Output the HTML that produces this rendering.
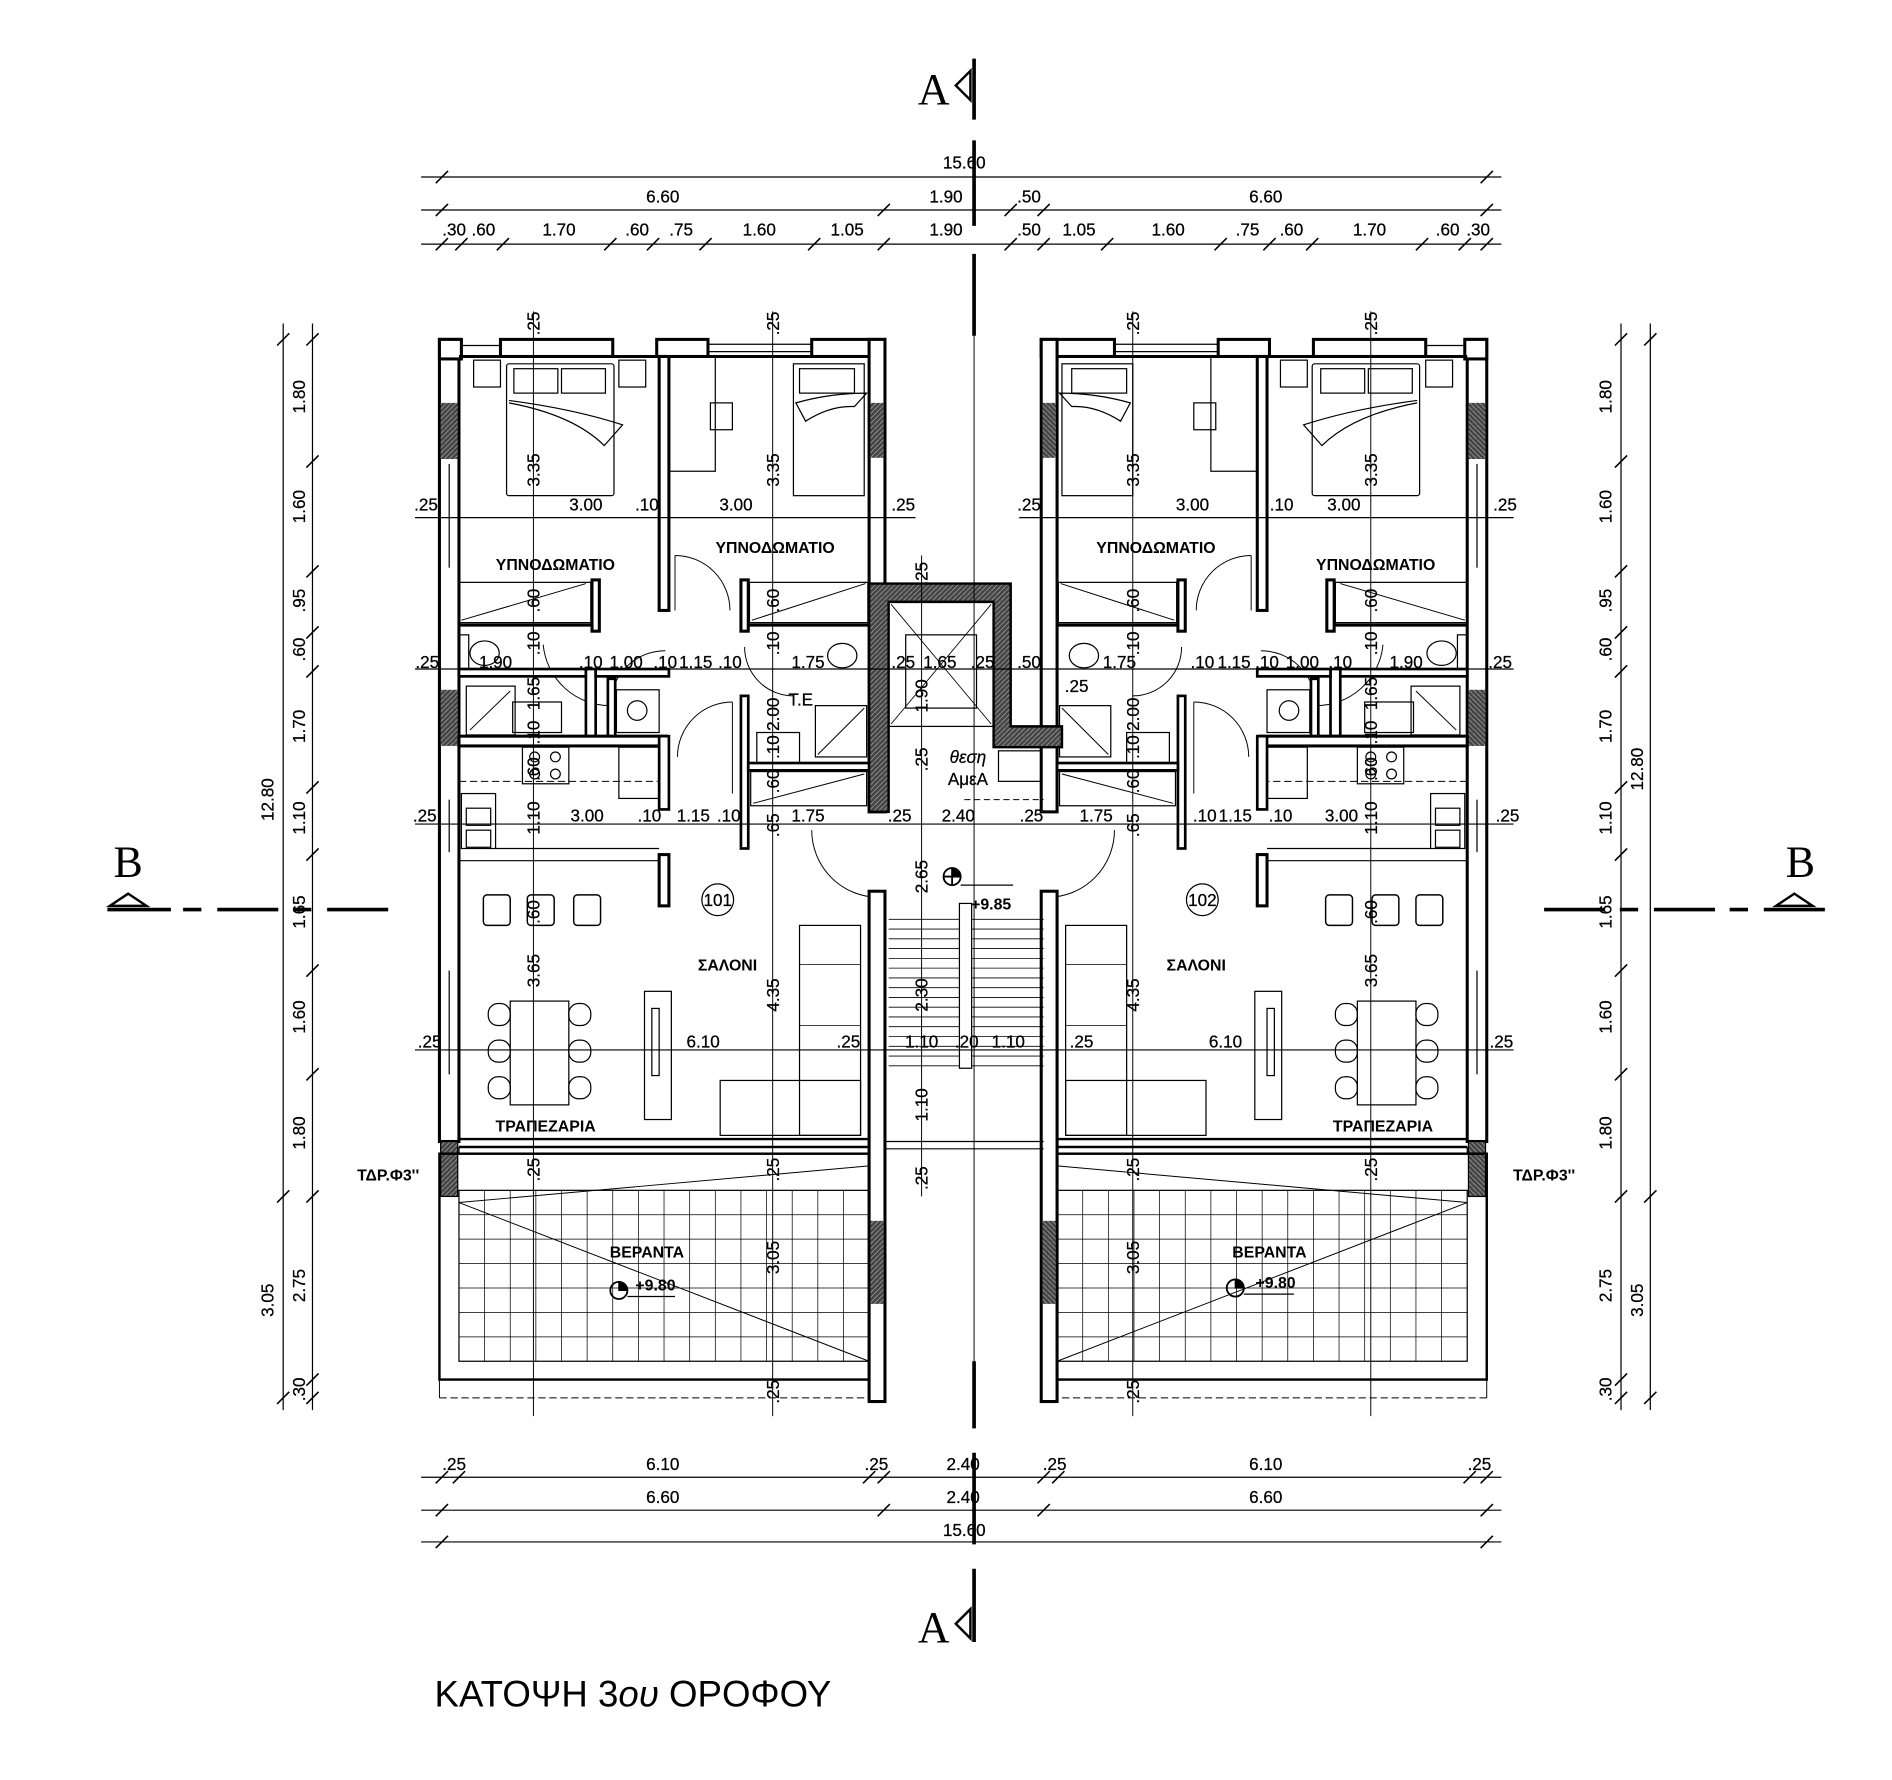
<!DOCTYPE html>
<html><head><meta charset="utf-8"><style>
html,body{margin:0;padding:0;background:#fff;}
svg{display:block}
text{font-family:"Liberation Sans Narrow","Liberation Sans",sans-serif;fill:#000;font-size:14px}
.t{font-size:14px;text-anchor:middle;stroke:#000;stroke-width:0.2}
.r{font-size:13px;font-weight:bold;text-anchor:middle}
</style></head><body>
<svg width="1892" height="1780" viewBox="0 0 1550 1458" preserveAspectRatio="none" xmlns="http://www.w3.org/2000/svg">
<defs>
<pattern id="h" width="4" height="4" patternUnits="userSpaceOnUse"><rect width="4" height="4" fill="#444"/><path d="M0 4L4 0" stroke="#999" stroke-width="0.7"/></pattern>
<g id="unit" stroke="#000" fill="none">
  <rect x="360" y="278" width="16" height="657" fill="#fff" stroke-width="2.5"/>
  <rect x="361" y="330" width="14" height="46" fill="url(#h)" stroke="none"/>
  <rect x="361" y="565" width="14" height="46" fill="url(#h)" stroke="none"/>
  <line x1="368" y1="380" x2="368" y2="465" stroke-width="1"/>
  <line x1="368" y1="655" x2="368" y2="698" stroke-width="1"/>
  <line x1="368" y1="795" x2="368" y2="880" stroke-width="1"/>
  <rect x="360" y="278" width="18" height="16" fill="#fff" stroke-width="2.5"/>
  <rect x="410" y="278" width="92" height="14" fill="#fff" stroke-width="2.5"/>
  <rect x="538" y="278" width="42" height="14" fill="#fff" stroke-width="2.5"/>
  <rect x="665" y="278" width="60" height="14" fill="#fff" stroke-width="2.5"/>
  <line x1="580" y1="282" x2="665" y2="282" stroke-width="1"/><line x1="580" y1="288" x2="665" y2="288" stroke-width="1"/>
  <line x1="378" y1="283" x2="410" y2="283" stroke-width="1"/>
  <line x1="376" y1="292" x2="712" y2="292" stroke-width="2.5"/>
  <rect x="712" y="278" width="13" height="387" fill="#fff" stroke-width="2.5"/>
  <rect x="713" y="330" width="11" height="45" fill="url(#h)" stroke="none"/>
  <rect x="540" y="292" width="8" height="208" fill="#fff" stroke-width="2.5"/>
  <rect x="485" y="475" width="6" height="42" fill="#fff" stroke-width="2.5"/>
  <line x1="376" y1="512" x2="485" y2="512" stroke-width="2.5"/>
  <rect x="376" y="477" width="108" height="33" stroke-width="1"/>
  <line x1="378" y1="508" x2="480" y2="478" stroke-width="0.8"/>
  <rect x="607" y="475" width="6" height="42" fill="#fff" stroke-width="2.5"/>
  <line x1="613" y1="512" x2="712" y2="512" stroke-width="2.5"/>
  <rect x="614" y="477" width="97" height="33" stroke-width="1"/>
  <line x1="616" y1="508" x2="709" y2="478" stroke-width="0.8"/>
  <rect x="415" y="298" width="88" height="108" rx="2" stroke-width="1"/>
  <rect x="421" y="302" width="36" height="20" stroke-width="1"/><rect x="460" y="302" width="36" height="20" stroke-width="1"/>
  <path d="M417 328 Q470 335 510 348 L495 365 Q470 340 417 330" stroke-width="1"/>
  <rect x="388" y="295" width="22" height="22" stroke-width="1"/><rect x="507" y="295" width="22" height="22" stroke-width="1"/>
  <rect x="650" y="298" width="58" height="108" stroke-width="1"/>
  <rect x="655" y="302" width="45" height="20" stroke-width="1"/>
  <path d="M652 330 Q680 322 710 322 L700 333 Q680 332 660 345 Z" stroke-width="1"/>
  <rect x="548" y="292" width="38" height="94" stroke-width="1"/>
  <rect x="582" y="330" width="18" height="22" stroke-width="1"/>
  <path d="M553 455 A45 45 0 0 1 598 500" stroke-width="0.8"/><line x1="553" y1="455" x2="553" y2="500" stroke-width="0.8"/>
  <path d="M445 528 A55 55 0 0 0 500 578" stroke-width="0.8"/>
  <path d="M500 578 A45 45 0 0 1 545 533" stroke-width="0.8"/>
  <path d="M610 530 A40 40 0 0 0 650 570" stroke-width="0.8"/>
  <path d="M555 620 A45 45 0 0 1 600 575" stroke-width="0.8"/><line x1="600" y1="575" x2="600" y2="650" stroke-width="0.8"/>
  <path d="M665 680 A55 55 0 0 0 720 735" stroke-width="0.8"/>
  <rect x="376" y="520" width="8" height="28" stroke-width="1"/>
  <ellipse cx="397" cy="535" rx="12" ry="10" stroke-width="1"/>
  <rect x="376" y="548" width="104" height="6" fill="#fff" stroke-width="2.2"/>
  <rect x="480" y="548" width="8" height="55" fill="#fff" stroke-width="2.2"/>
  <rect x="488" y="548" width="60" height="6" fill="#fff" stroke-width="2.2"/>
  <rect x="498" y="556" width="6" height="50" fill="#fff" stroke-width="2.2"/>
  <rect x="382" y="562" width="40" height="40" stroke-width="1"/><line x1="385" y1="598" x2="418" y2="566" stroke-width="0.8"/>
  <rect x="420" y="575" width="40" height="25" stroke-width="1"/>
  <rect x="505" y="565" width="35" height="35" stroke-width="1"/><circle cx="522" cy="582" r="8" stroke-width="1"/>
  <rect x="376" y="603" width="170" height="8" fill="#fff" stroke-width="2.5"/>
  <rect x="540" y="603" width="8" height="60" fill="#fff" stroke-width="2.2"/>
  <rect x="428" y="612" width="38" height="30" stroke-width="1"/>
  <circle cx="438" cy="620" r="4" stroke-width="1"/><circle cx="455" cy="620" r="4" stroke-width="1"/><circle cx="438" cy="634" r="4" stroke-width="1"/><circle cx="455" cy="634" r="4" stroke-width="1"/>
  <line x1="376" y1="640" x2="540" y2="640" stroke-width="0.8" stroke-dasharray="6 3"/>
  <rect x="507" y="612" width="33" height="42" stroke-width="1"/>
  <rect x="378" y="650" width="28" height="45" stroke-width="1"/>
  <rect x="382" y="662" width="20" height="14" stroke-width="1"/><rect x="382" y="680" width="20" height="14" stroke-width="1"/>
  <line x1="406" y1="695" x2="540" y2="695" stroke-width="1"/>
  <rect x="607" y="570" width="6" height="125" fill="#fff" stroke-width="2.2"/>
  <rect x="613" y="625" width="99" height="6" fill="#fff" stroke-width="2.2"/>
  <rect x="668" y="578" width="42" height="42" stroke-width="1"/><line x1="670" y1="618" x2="708" y2="580" stroke-width="0.8"/>
  <rect x="620" y="600" width="35" height="25" stroke-width="1"/>
  <rect x="615" y="632" width="95" height="28" stroke-width="1"/><line x1="617" y1="658" x2="708" y2="634" stroke-width="0.8"/>
  <ellipse cx="690" cy="537" rx="12" ry="10" stroke-width="1"/>
  <rect x="540" y="700" width="8" height="42" fill="#fff" stroke-width="2.5"/>
  <line x1="376" y1="705" x2="540" y2="705" stroke-width="1"/>
  <rect x="396" y="733" width="22" height="25" rx="3" stroke-width="1.2"/><rect x="432" y="733" width="22" height="25" rx="3" stroke-width="1.2"/><rect x="470" y="733" width="22" height="25" rx="3" stroke-width="1.2"/>
  <rect x="418" y="820" width="48" height="85" stroke-width="1"/>
  <rect x="400" y="822" width="18" height="18" rx="8" stroke-width="1"/><rect x="400" y="852" width="18" height="18" rx="8" stroke-width="1"/><rect x="400" y="882" width="18" height="18" rx="8" stroke-width="1"/>
  <rect x="466" y="822" width="18" height="18" rx="8" stroke-width="1"/><rect x="466" y="852" width="18" height="18" rx="8" stroke-width="1"/><rect x="466" y="882" width="18" height="18" rx="8" stroke-width="1"/>
  <rect x="528" y="812" width="22" height="105" stroke-width="1"/><rect x="534" y="826" width="6" height="55" stroke-width="1"/>
  <rect x="655" y="758" width="50" height="172" stroke-width="1"/>
  <rect x="590" y="885" width="115" height="45" stroke-width="1"/>
  <line x1="655" y1="790" x2="705" y2="790" stroke-width="0.6"/><line x1="655" y1="840" x2="705" y2="840" stroke-width="0.6"/>
  <rect x="712" y="730" width="13" height="418" fill="#fff" stroke-width="2.5"/>
  <rect x="713" y="1000" width="11" height="68" fill="url(#h)" stroke="none"/>
  <rect x="361" y="935" width="14" height="45" fill="url(#h)" stroke="#000" stroke-width="1"/>
  <line x1="376" y1="933" x2="712" y2="933" stroke-width="2"/><line x1="376" y1="939" x2="712" y2="939" stroke-width="1"/>
  <rect x="376" y="940" width="336" height="5" stroke-width="1"/>
  <rect x="360" y="945" width="352" height="185" stroke-width="2"/>
  <rect x="376" y="975" width="336" height="140" stroke-width="1"/>
  <path d="M397 975 V1115 M418 975 V1115 M439 975 V1115 M460 975 V1115 M481 975 V1115 M502 975 V1115 M523 975 V1115 M544 975 V1115 M565 975 V1115 M586 975 V1115 M607 975 V1115 M628 975 V1115 M649 975 V1115 M670 975 V1115 M691 975 V1115" stroke-width="0.6"/>
  <path d="M376 995 H712 M376 1015 H712 M376 1035 H712 M376 1055 H712 M376 1075 H712 M376 1095 H712" stroke-width="0.6"/>
  <path d="M376 985 L712 1115 M376 985 L712 955" stroke-width="0.8"/>
  <line x1="360" y1="1145" x2="712" y2="1145" stroke-width="0.8" stroke-dasharray="6 3"/>
  <line x1="360" y1="1130" x2="360" y2="1145" stroke-width="0.8"/>
</g>
</defs>

<use href="#unit"/>
<use href="#unit" transform="translate(1578,0) scale(-1,1)"/>

<g stroke="#000" fill="none">
<path d="M712 478 H828 V595 H870 V612 H814 V493 H728 V665 H712 Z" fill="url(#h)" stroke-width="2"/>
<rect x="728" y="493" width="86" height="102" stroke-width="1"/>
<path d="M730 495 L812 593 M812 495 L730 593" stroke-width="0.7"/>
<rect x="742" y="520" width="58" height="60" stroke-width="1"/>
<rect x="818" y="615" width="35" height="25" stroke-width="1"/>
<line x1="790" y1="655" x2="855" y2="655" stroke-width="0.8" stroke-dasharray="5 3"/>
<path d="M728 753 H855 M728 761 H855 M728 769 H855 M728 777 H855 M728 785 H855 M728 793 H855 M728 801 H855 M728 809 H855 M728 817 H855 M728 825 H855 M728 833 H855 M728 841 H855 M728 849 H855 M728 857 H855 M728 865 H855 M728 873 H855" stroke-width="0.7"/>
<rect x="786" y="740" width="10" height="135" fill="#fff" stroke-width="1"/>
<line x1="725" y1="935" x2="855" y2="935" stroke-width="1"/><line x1="725" y1="941" x2="855" y2="941" stroke-width="1"/>
<circle cx="780" cy="718" r="7" stroke-width="1.5"/><path d="M773 718 H787 M780 711 V725" stroke-width="1.5"/><path d="M780 711 A7 7 0 0 1 787 718 L780 718 Z" fill="#000"/>
<line x1="787" y1="725" x2="830" y2="725" stroke-width="1"/>
<circle cx="588" cy="737" r="13" stroke-width="1"/><circle cx="985" cy="737" r="13" stroke-width="1"/>
<circle cx="507" cy="1057" r="7" stroke-width="1.5"/><path d="M507 1050 A7 7 0 0 1 514 1057 L507 1057 Z" fill="#000"/><line x1="514" y1="1062" x2="553" y2="1062" stroke-width="1"/>
<circle cx="1012" cy="1055" r="7" stroke-width="1.5"/><path d="M1012 1048 A7 7 0 0 1 1019 1055 L1012 1055 Z" fill="#000"/><line x1="1019" y1="1060" x2="1060" y2="1060" stroke-width="1"/>
</g>

<g stroke="#000">
<path d="M798 48 V98 M798 115 V185 M798 208 V275" stroke-width="3"/>
<path d="M798 1115 V1170 M798 1190 V1265 M798 1285 V1345" stroke-width="3"/>
<path d="M88 745 H140 M150 745 H165 M178 745 H228 M240 745 H255 M268 745 H318" stroke-width="3"/>
<path d="M1265 745 H1315 M1327 745 H1342 M1355 745 H1405 M1417 745 H1432 M1445 745 H1495" stroke-width="3"/>
<path d="M795 58 L783 70 L795 82 Z M795 1318 L783 1330 L795 1342 Z" fill="#fff" stroke-width="2"/>
<path d="M90 742 L105 732 L120 742 Z M1455 742 L1470 732 L1485 742 Z" fill="#fff" stroke-width="2"/>
</g>
<text x="765" y="85" style="font-size:36px;font-family:'Liberation Serif',serif" text-anchor="middle">A</text>
<text x="765" y="1345" style="font-size:36px;font-family:'Liberation Serif',serif" text-anchor="middle">A</text>
<text x="105" y="718" style="font-size:36px;font-family:'Liberation Serif',serif" text-anchor="middle">B</text>
<text x="1475" y="718" style="font-size:36px;font-family:'Liberation Serif',serif" text-anchor="middle">B</text>

<g stroke="#000" stroke-width="1">
<path d="M345 145 H1230 M345 172 H1230 M345 200 H1230 M345 1210 H1230 M345 1237 H1230 M345 1263 H1230"/>
<path d="M232 265 V1155 M256 265 V1155 M1328 265 V1155 M1352 265 V1155"/>
<path d="M340 424 H750 M835 424 H1240 M340 548 H1240 M340 675 H1240 M340 860 H1240"/>
<path d="M437 255 V1160 M633 255 V1160 M928 255 V1160 M1123 255 V1160 M755 455 V980 M798 255 V1115" stroke-width="0.8"/>
<g stroke-width="1.3">
<path d="M357 150 L367 140 M1213 150 L1223 140"/>
<path d="M357 177 L367 167 M719 177 L729 167 M823 177 L833 167 M850 177 L860 167 M1213 177 L1223 167"/>
<path d="M357 205 L367 195 M373 205 L383 195 M407 205 L417 195 M495 205 L505 195 M530 205 L540 195 M573 205 L583 195 M662 205 L672 195 M719 205 L729 195 M823 205 L833 195 M850 205 L860 195 M902 205 L912 195 M995 205 L1005 195 M1035 205 L1045 195 M1070 205 L1080 195 M1160 205 L1170 195 M1195 205 L1205 195 M1213 205 L1223 195"/>
<path d="M357 1215 L367 1205 M371 1215 L381 1205 M707 1215 L717 1205 M719 1215 L729 1205 M850 1215 L860 1205 M862 1215 L872 1205 M1199 1215 L1209 1205 M1213 1215 L1223 1205"/>
<path d="M357 1242 L367 1232 M719 1242 L729 1232 M850 1242 L860 1232 M1213 1242 L1223 1232 M357 1268 L367 1258 M1213 1268 L1223 1258"/>
<path d="M227 283 L237 273 M227 1150 L237 1140 M251 283 L261 273 M251 383 L261 373 M251 473 L261 463 M251 523 L261 513 M251 555 L261 545 M251 650 L261 640 M251 705 L261 695 M251 800 L261 790 M251 885 L261 875 M251 985 L261 975 M251 1135 L261 1125 M251 1150 L261 1140 M227 985 L237 975"/>
<path d="M1323 283 L1333 273 M1323 383 L1333 373 M1323 473 L1333 463 M1323 523 L1333 513 M1323 555 L1333 545 M1323 650 L1333 640 M1323 705 L1333 695 M1323 800 L1333 790 M1323 885 L1333 875 M1323 985 L1333 975 M1323 1135 L1333 1125 M1323 1150 L1333 1140 M1347 283 L1357 273 M1347 1150 L1357 1140 M1347 985 L1357 975"/>
</g>
</g>

<g class="t">
<text x="790" y="138" class="t">15.60</text>
<text x="543" y="166" class="t">6.60</text><text x="775" y="166" class="t">1.90</text><text x="843" y="166" class="t">.50</text><text x="1037" y="166" class="t">6.60</text>
<text x="372" y="193" class="t">.30</text><text x="396" y="193" class="t">.60</text><text x="458" y="193" class="t">1.70</text><text x="522" y="193" class="t">.60</text><text x="558" y="193" class="t">.75</text><text x="622" y="193" class="t">1.60</text><text x="694" y="193" class="t">1.05</text><text x="775" y="193" class="t">1.90</text><text x="843" y="193" class="t">.50</text><text x="884" y="193" class="t">1.05</text><text x="957" y="193" class="t">1.60</text><text x="1022" y="193" class="t">.75</text><text x="1058" y="193" class="t">.60</text><text x="1122" y="193" class="t">1.70</text><text x="1186" y="193" class="t">.60</text><text x="1211" y="193" class="t">.30</text>
<text x="372" y="1204" class="t">.25</text><text x="543" y="1204" class="t">6.10</text><text x="718" y="1204" class="t">.25</text><text x="789" y="1204" class="t">2.40</text><text x="864" y="1204" class="t">.25</text><text x="1037" y="1204" class="t">6.10</text><text x="1212" y="1204" class="t">.25</text>
<text x="543" y="1231" class="t">6.60</text><text x="789" y="1231" class="t">2.40</text><text x="1037" y="1231" class="t">6.60</text>
<text x="790" y="1258" class="t">15.60</text>
<text x="349" y="418" class="t">.25</text><text x="480" y="418" class="t">3.00</text><text x="530" y="418" class="t">.10</text><text x="603" y="418" class="t">3.00</text><text x="740" y="418" class="t">.25</text>
<text x="843" y="418" class="t">.25</text><text x="977" y="418" class="t">3.00</text><text x="1050" y="418" class="t">.10</text><text x="1101" y="418" class="t">3.00</text><text x="1233" y="418" class="t">.25</text>
<text x="350" y="547" class="t">.25</text><text x="406" y="547" class="t">1.90</text><text x="484" y="547" class="t">.10</text><text x="513" y="547" class="t">1.00</text><text x="545" y="547" class="t">.10</text><text x="570" y="547" class="t">1.15</text><text x="598" y="547" class="t">.10</text><text x="662" y="547" class="t">1.75</text><text x="740" y="547" class="t">.25</text><text x="770" y="547" class="t">1.65</text><text x="805" y="547" class="t">.25</text><text x="843" y="547" class="t">.50</text>
<text x="917" y="547" class="t">1.75</text><text x="985" y="547" class="t">.10</text><text x="1011" y="547" class="t">1.15</text><text x="1038" y="547" class="t">.10</text><text x="1067" y="547" class="t">1.00</text><text x="1098" y="547" class="t">.10</text><text x="1152" y="547" class="t">1.90</text><text x="1229" y="547" class="t">.25</text>
<text x="348" y="673" class="t">.25</text><text x="481" y="673" class="t">3.00</text><text x="532" y="673" class="t">.10</text><text x="568" y="673" class="t">1.15</text><text x="597" y="673" class="t">.10</text><text x="662" y="673" class="t">1.75</text><text x="737" y="673" class="t">.25</text><text x="785" y="673" class="t">2.40</text><text x="845" y="673" class="t">.25</text><text x="898" y="673" class="t">1.75</text><text x="987" y="673" class="t">.10</text><text x="1012" y="673" class="t">1.15</text><text x="1049" y="673" class="t">.10</text><text x="1099" y="673" class="t">3.00</text><text x="1235" y="673" class="t">.25</text>
<text x="352" y="858" class="t">.25</text><text x="576" y="858" class="t">6.10</text><text x="695" y="858" class="t">.25</text><text x="755" y="858" class="t">1.10</text><text x="792" y="858" class="t">.20</text><text x="826" y="858" class="t">1.10</text><text x="886" y="858" class="t">.25</text><text x="1004" y="858" class="t">6.10</text><text x="1230" y="858" class="t">.25</text>
<text x="882" y="567" class="t">.25</text><text x="656" y="578" class="t">Τ.Ε</text>
</g>

<g class="t">
<text transform="translate(250,325) rotate(-90)" class="t">1.80</text>
<text transform="translate(250,415) rotate(-90)" class="t">1.60</text>
<text transform="translate(250,492) rotate(-90)" class="t">.95</text>
<text transform="translate(250,532) rotate(-90)" class="t">.60</text>
<text transform="translate(250,595) rotate(-90)" class="t">1.70</text>
<text transform="translate(250,670) rotate(-90)" class="t">1.10</text>
<text transform="translate(250,747) rotate(-90)" class="t">1.65</text>
<text transform="translate(250,833) rotate(-90)" class="t">1.60</text>
<text transform="translate(250,928) rotate(-90)" class="t">1.80</text>
<text transform="translate(250,1053) rotate(-90)" class="t">2.75</text>
<text transform="translate(250,1138) rotate(-90)" class="t">.30</text>
<text transform="translate(224,655) rotate(-90)" class="t">12.80</text>
<text transform="translate(224,1065) rotate(-90)" class="t">3.05</text>
<text transform="translate(1320,325) rotate(-90)" class="t">1.80</text>
<text transform="translate(1320,415) rotate(-90)" class="t">1.60</text>
<text transform="translate(1320,492) rotate(-90)" class="t">.95</text>
<text transform="translate(1320,532) rotate(-90)" class="t">.60</text>
<text transform="translate(1320,595) rotate(-90)" class="t">1.70</text>
<text transform="translate(1320,670) rotate(-90)" class="t">1.10</text>
<text transform="translate(1320,747) rotate(-90)" class="t">1.65</text>
<text transform="translate(1320,833) rotate(-90)" class="t">1.60</text>
<text transform="translate(1320,928) rotate(-90)" class="t">1.80</text>
<text transform="translate(1320,1053) rotate(-90)" class="t">2.75</text>
<text transform="translate(1320,1138) rotate(-90)" class="t">.30</text>
<text transform="translate(1346,630) rotate(-90)" class="t">12.80</text>
<text transform="translate(1346,1065) rotate(-90)" class="t">3.05</text>
<text transform="translate(442,265) rotate(-90)" class="t">.25</text><text transform="translate(638,265) rotate(-90)" class="t">.25</text><text transform="translate(933,265) rotate(-90)" class="t">.25</text><text transform="translate(1128,265) rotate(-90)" class="t">.25</text>
<text transform="translate(442,385) rotate(-90)" class="t">3.35</text><text transform="translate(638,385) rotate(-90)" class="t">3.35</text><text transform="translate(933,385) rotate(-90)" class="t">3.35</text><text transform="translate(1128,385) rotate(-90)" class="t">3.35</text>
<text transform="translate(442,492) rotate(-90)" class="t">.60</text><text transform="translate(638,492) rotate(-90)" class="t">.60</text><text transform="translate(933,492) rotate(-90)" class="t">.60</text><text transform="translate(1128,492) rotate(-90)" class="t">.60</text>
<text transform="translate(442,527) rotate(-90)" class="t">.10</text><text transform="translate(638,527) rotate(-90)" class="t">.10</text><text transform="translate(933,527) rotate(-90)" class="t">.10</text><text transform="translate(1128,527) rotate(-90)" class="t">.10</text>
<text transform="translate(442,568) rotate(-90)" class="t">1.65</text><text transform="translate(638,585) rotate(-90)" class="t">2.00</text><text transform="translate(933,585) rotate(-90)" class="t">2.00</text><text transform="translate(1128,568) rotate(-90)" class="t">1.65</text>
<text transform="translate(442,600) rotate(-90)" class="t">.10</text><text transform="translate(638,612) rotate(-90)" class="t">.10</text><text transform="translate(933,612) rotate(-90)" class="t">.10</text><text transform="translate(1128,600) rotate(-90)" class="t">.10</text>
<text transform="translate(442,630) rotate(-90)" class="t">.60</text><text transform="translate(638,640) rotate(-90)" class="t">.60</text><text transform="translate(933,640) rotate(-90)" class="t">.60</text><text transform="translate(1128,630) rotate(-90)" class="t">.60</text>
<text transform="translate(442,670) rotate(-90)" class="t">1.10</text><text transform="translate(638,676) rotate(-90)" class="t">.65</text><text transform="translate(933,676) rotate(-90)" class="t">.65</text><text transform="translate(1128,670) rotate(-90)" class="t">1.10</text>
<text transform="translate(442,747) rotate(-90)" class="t">.60</text><text transform="translate(1128,747) rotate(-90)" class="t">.60</text>
<text transform="translate(442,795) rotate(-90)" class="t">3.65</text><text transform="translate(1128,795) rotate(-90)" class="t">3.65</text>
<text transform="translate(638,815) rotate(-90)" class="t">4.35</text><text transform="translate(933,815) rotate(-90)" class="t">4.35</text>
<text transform="translate(442,958) rotate(-90)" class="t">.25</text><text transform="translate(638,958) rotate(-90)" class="t">.25</text><text transform="translate(933,958) rotate(-90)" class="t">.25</text><text transform="translate(1128,958) rotate(-90)" class="t">.25</text>
<text transform="translate(638,1030) rotate(-90)" class="t">3.05</text><text transform="translate(933,1030) rotate(-90)" class="t">3.05</text>
<text transform="translate(638,1140) rotate(-90)" class="t">.25</text><text transform="translate(933,1140) rotate(-90)" class="t">.25</text>
<text transform="translate(760,470) rotate(-90)" class="t">.25</text><text transform="translate(760,570) rotate(-90)" class="t">1.90</text><text transform="translate(760,622) rotate(-90)" class="t">.25</text><text transform="translate(760,718) rotate(-90)" class="t">2.65</text><text transform="translate(760,815) rotate(-90)" class="t">2.30</text><text transform="translate(760,905) rotate(-90)" class="t">1.10</text><text transform="translate(760,965) rotate(-90)" class="t">.25</text>
</g>

<g>
<text x="455" y="467" class="r">ΥΠΝΟΔΩΜΑΤΙΟ</text><text x="635" y="453" class="r">ΥΠΝΟΔΩΜΑΤΙΟ</text><text x="947" y="453" class="r">ΥΠΝΟΔΩΜΑΤΙΟ</text><text x="1127" y="467" class="r">ΥΠΝΟΔΩΜΑΤΙΟ</text>
<text x="596" y="795" class="r">ΣΑΛΟΝΙ</text><text x="980" y="795" class="r">ΣΑΛΟΝΙ</text>
<text x="447" y="927" class="r">ΤΡΑΠΕΖΑΡΙΑ</text><text x="1133" y="927" class="r">ΤΡΑΠΕΖΑΡΙΑ</text>
<text x="530" y="1030" class="r">ΒΕΡΑΝΤΑ</text><text x="1040" y="1030" class="r">ΒΕΡΑΝΤΑ</text>
<text x="588" y="742" class="t">101</text><text x="985" y="742" class="t">102</text>
<text x="812" y="745" class="r">+9.85</text><text x="537" y="1057" class="r">+9.80</text><text x="1045" y="1055" class="r">+9.80</text>
<text x="318" y="967" class="r">ΤΔΡ.Φ3''</text><text x="1265" y="967" class="r">ΤΔΡ.Φ3''</text>
<text x="793" y="625" class="t" style="font-style:italic">θεση</text><text x="793" y="643" class="t">ΑμεΑ</text>
</g>
<text x="356" y="1398" style="font-size:30px;font-family:'Liberation Sans Narrow','Liberation Sans',sans-serif">ΚΑΤΟΨΗ 3<tspan style="font-style:italic">ου</tspan> ΟΡΟΦΟΥ</text>
</svg>
</body></html>
